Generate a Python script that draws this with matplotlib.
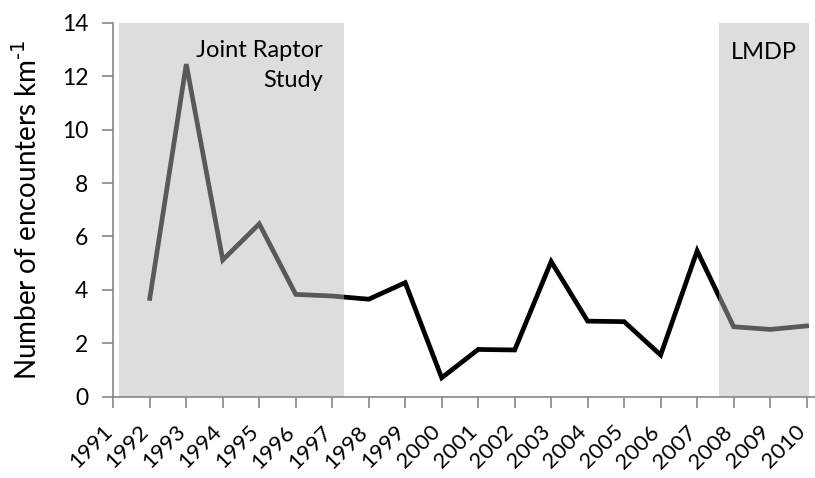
import matplotlib
matplotlib.use("Agg")
from matplotlib import pyplot as plt
from matplotlib.patches import Rectangle
from matplotlib.transforms import ScaledTranslation

years = list(range(1991, 2011))
data_years = list(range(1992, 2011))
encounters = [3.68, 12.45, 5.12, 6.47, 3.83, 3.77, 3.65, 4.27, 0.71, 1.77,
              1.75, 5.06, 2.83, 2.81, 1.56, 5.46, 2.62, 2.52, 2.65]

# study periods (shaded)
periods = [(1991.15, 1997.32, "Joint Raptor\nStudy"), (2007.6, 2010.07, "LMDP")]

plt.rcParams['font.family'] = ['Lato', 'DejaVu Sans']

fig = plt.figure(figsize=(8.15, 4.78), dpi=100)
ax = fig.add_axes([0.139, 0.170, 0.861, 0.7825])

spans = []
for x0, x1, name in periods:
    spans.append(ax.axvspan(x0, x1, ymin=0, ymax=1, color='#dddddd', lw=0, zorder=0))

# black line in the gap between the studies
blk, = ax.plot(data_years, encounters, color='black', lw=3.4, zorder=2, solid_joinstyle='miter')
blk.set_clip_path(Rectangle((periods[0][1], -1), periods[1][0] - periods[0][1], 20,
                            transform=ax.transData))
# grey line inside the study periods
for sp in spans:
    g, = ax.plot(data_years, encounters, color='#595959', lw=3.4, zorder=3, solid_joinstyle='miter')
    g.set_clip_path(sp)

ax.text(1996.75, 12.4, "Joint Raptor\nStudy", ha='right', va='center', fontsize=17, linespacing=1.55)
ax.text(2008.83, 12.9, "LMDP", ha='center', va='center', fontsize=17)

ax.set_xlim(1991, 2010.23)
ax.set_ylim(0, 14)
ax.set_yticks(range(0, 15, 2))
ax.set_xticks(years)
ax.set_xticklabels([str(y) for y in years], rotation=45, ha='right')
ax.tick_params(axis='both', labelsize=16.5, color='#868686', length=8, width=1.2)
ax.tick_params(axis='x', labelsize=16, pad=10)
ax.tick_params(axis='y', pad=10)
shift = ScaledTranslation(3/100, 0, fig.dpi_scale_trans)
for lab in ax.get_xticklabels():
    lab.set_transform(lab.get_transform() + shift)
for s in ['top', 'right']:
    ax.spines[s].set_visible(False)
for s in ['left', 'bottom']:
    ax.spines[s].set_color('#868686')
    ax.spines[s].set_linewidth(1.2)
ax.set_ylabel(r"Number of encounters km$^{\text{-1}}$", fontsize=20, labelpad=14)

plt.savefig('out.png', dpi=100)
